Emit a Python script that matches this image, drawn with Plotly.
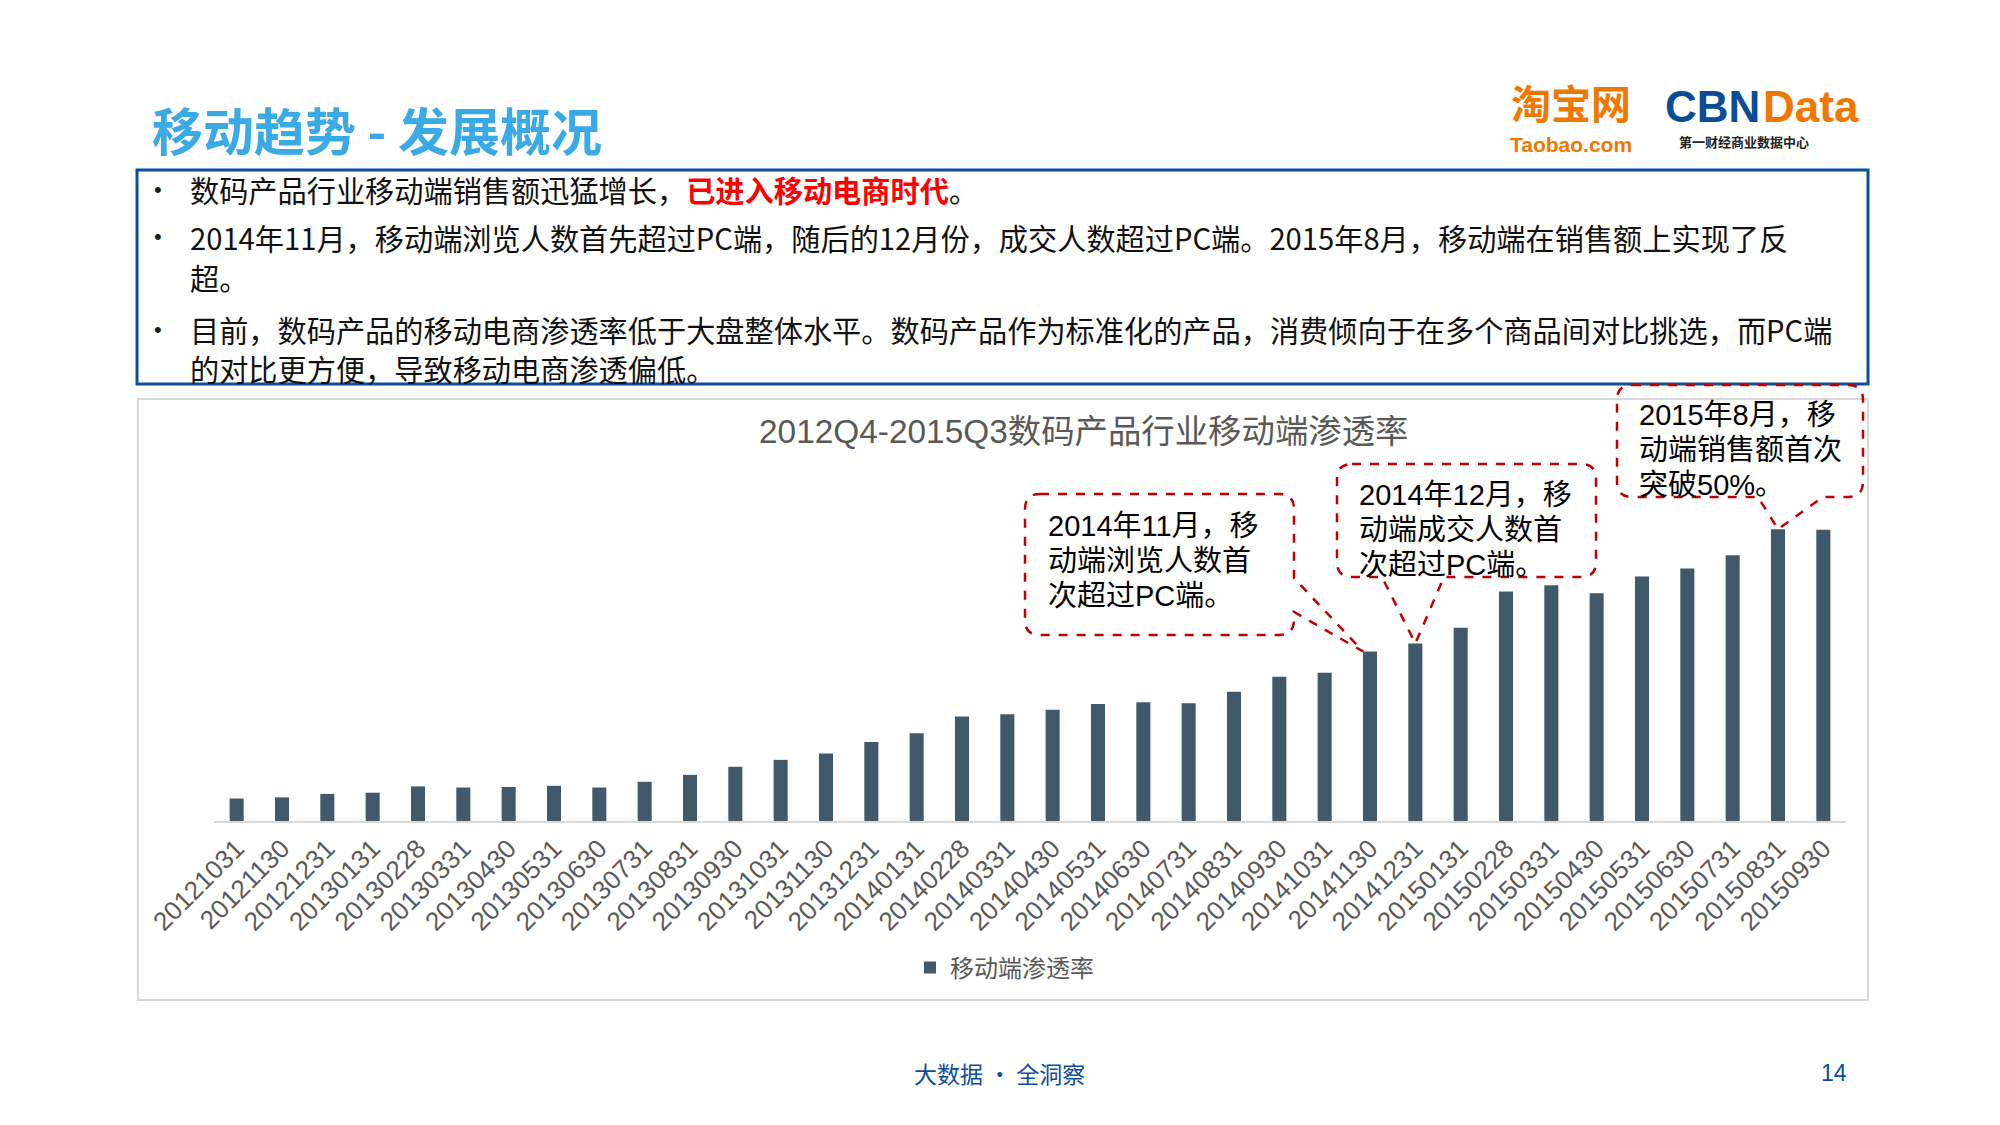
import plotly.graph_objects as go

# ---------------- data ----------------
dates = ["20121031", "20121130", "20121231", "20130131", "20130228", "20130331",
         "20130430", "20130531", "20130630", "20130731", "20130831", "20130930",
         "20131031", "20131130", "20131231", "20140131", "20140228", "20140331",
         "20140430", "20140531", "20140630", "20140731", "20140831", "20140930",
         "20141031", "20141130", "20141231", "20150131", "20150228", "20150331",
         "20150430", "20150531", "20150630", "20150731", "20150831", "20150930"]
mobile_share = [3.9, 4.1, 4.7, 4.9, 6.0, 5.8, 5.9, 6.1, 5.8, 6.8, 8.0, 9.4,
                10.6, 11.7, 13.7, 15.2, 18.1, 18.5, 19.3, 20.3, 20.6, 20.4, 22.4, 25.0,
                25.7, 29.4, 30.8, 33.5, 39.8, 40.9, 39.5, 42.4, 43.8, 46.1, 50.6, 50.5]
series_name = "移动端渗透率"
chart_title = "2012Q4-2015Q3数码产品行业移动端渗透率"
page_title = "移动趋势 - 发展概况"
bullets = [
    "数码产品行业移动端销售额迅猛增长，<span style='color:#FF0000'><b>已进入移动电商时代</b></span>。",
    "2014年11月，移动端浏览人数首先超过PC端，随后的12月份，成交人数超过PC端。2015年8月，移动端在销售额上实现了反",
    "超。",
    "目前，数码产品的移动电商渗透率低于大盘整体水平。数码产品作为标准化的产品，消费倾向于在多个商品间对比挑选，而PC端",
    "的对比更方便，导致移动电商渗透偏低。",
]
callouts = [
    (25, ["2014年11月，移", "动端浏览人数首", "次超过PC端。"]),
    (26, ["2014年12月，移", "动端成交人数首", "次超过PC端。"]),
    (34, ["2015年8月，移", "动端销售额首次", "突破50%。"]),
]

# ---------------- geometry ----------------
W, H = 2000, 1125
PL, PR, PB = 214, 1846, 821
YMAX = 60
PT = 475
PW, PH = PR - PL, PB - PT

CJK = "Noto Sans CJK SC"
LAT = "Liberation Sans, Arial, Noto Sans CJK SC"


def xp(px):
    return (px - PL) / PW


def yp(py):
    return (PB - py) / PH


def bar_top_px(i):
    cx = PL + (i + 0.5) * PW / len(dates)
    ty = PB - mobile_share[i] * PH / YMAX
    return cx, ty


fig = go.Figure()
fig.add_trace(go.Bar(
    x=dates, y=mobile_share, name=series_name,
    marker=dict(color="#405A6C", line=dict(width=0)),
    width=0.31,
))

shapes = []
annotations = []


def txt(text, x, y, size, color, family=CJK, xanchor="left", pad=1):
    annotations.append(dict(text=text, x=xp(x), y=yp(y), xref="paper", yref="paper",
                            xanchor=xanchor, yanchor="middle", showarrow=False, borderpad=pad,
                            font=dict(family=family, size=size, color=color)))


# page title
txt(f"<b>{page_title}</b>", 151, 129, 51, "#3AAAE6", pad=0)
# logos
txt("<b>淘宝网</b>", 1571, 102, 40, "#F07800", xanchor="center", pad=0)
txt("<b>Taobao.com</b>", 1571, 144, 21, "#F07800", family=LAT, xanchor="center", pad=0)
txt("<b>CBN</b>", 1761, 106, 44, "#0B4C94", family=LAT, xanchor="right", pad=0)
txt("<b>Data</b>", 1761.5, 106, 44, "#F07800", family=LAT, xanchor="left", pad=0)
txt("<b>第一财经商业数据中心</b>", 1744, 141, 13, "#222222", xanchor="center", pad=0)

# blue text box
shapes.append(dict(type="rect", xref="paper", yref="paper", x0=xp(137), x1=xp(1868), y0=yp(170), y1=yp(384),
                   line=dict(color="#0B4F9C", width=3), fillcolor="rgba(0,0,0,0)", layer="above"))
bullet_y = [189, 237, 277, 329, 368]
for k, (t, by) in enumerate(zip(bullets, bullet_y)):
    if k in (0, 1, 3):
        txt("•", 158, by, 22, "#1A1A1A", family=LAT, xanchor="center")
    txt(t, 189, by, 29.2, "#111111", pad=0)

# chart frame
shapes.append(dict(type="rect", xref="paper", yref="paper", x0=xp(138), x1=xp(1868), y0=yp(399), y1=yp(1000),
                   line=dict(color="#D9D9D9", width=2), fillcolor="rgba(0,0,0,0)", layer="below"))
txt(chart_title, 1083, 431, 33.4, "#595959", family=LAT, xanchor="center")


# callouts
def path_from_px(pts_cmds):
    out = []
    for cmd, pts in pts_cmds:
        coords = " ".join(f"{xp(px):.5f},{yp(py):.5f}" for px, py in pts)
        out.append(f"{cmd}{coords}")
    return " ".join(out) + " Z"


def callout_path(x0, y0, x1, y1, r, edge, a, b, tip):
    cmds = [("M", [(x0 + r, y0)]), ("L", [(x1 - r, y0)]), ("Q", [(x1, y0), (x1, y0 + r)])]
    if edge == "right":
        cmds += [("L", [(x1, a)]), ("L", [tip]), ("L", [(x1, b)])]
    cmds += [("L", [(x1, y1 - r)]), ("Q", [(x1, y1), (x1 - r, y1)])]
    if edge == "bottom":
        cmds += [("L", [(b, y1)]), ("L", [tip]), ("L", [(a, y1)])]
    cmds += [("L", [(x0 + r, y1)]), ("Q", [(x0, y1), (x0, y1 - r)]),
             ("L", [(x0, y0 + r)]), ("Q", [(x0, y0), (x0 + r, y0)])]
    return path_from_px(cmds)


box_geom = [
    # x0, y0, x1, y1, edge, a, b, tip x-offset, text-left, first line y, line step
    (1025, 494, 1294, 635, "right", 578, 612, -7, 1046, 526, 35),
    (1337, 464, 1596, 577, "bottom", 1382, 1444, 0, 1357, 495, 35),
    (1617, 385, 1863, 497, "bottom", 1758, 1823, 0, 1637, 415, 35),
]
for (idx, lines), (bx0, by0, bx1, by1, edge, a, b, tdx, tl, ly, ls) in zip(callouts, box_geom):
    cx, ty = bar_top_px(idx)
    tip = (cx + tdx, ty)
    shapes.append(dict(type="path", xref="paper", yref="paper",
                       path=callout_path(bx0, by0, bx1, by1, 15, edge, a, b, tip),
                       line=dict(color="#C00000", width=2.5, dash="dash"),
                       fillcolor="rgba(0,0,0,0)", layer="above"))
    for j, line in enumerate(lines):
        txt(line, tl, ly + j * ls, 29, "#000000", family=LAT)

# footer
txt("大数据 · 全洞察", 999, 1073, 23, "#0D4E9C", xanchor="center")
txt("14", 1834, 1073, 23, "#0D4E9C", family=LAT, xanchor="center")

fig.update_layout(
    width=W, height=H,
    margin=dict(l=PL, r=W - PR, t=PT, b=H - PB, pad=0),
    paper_bgcolor="white", plot_bgcolor="white",
    showlegend=True,
    legend=dict(orientation="h", x=xp(910), xanchor="left", y=yp(968), yanchor="middle",
                font=dict(family=CJK, size=24, color="#595959"), bgcolor="rgba(0,0,0,0)",
                itemwidth=30),
    xaxis=dict(type="category", tickangle=-45, showline=True, linecolor="#D9D9D9", linewidth=2,
               ticks="", showgrid=False, automargin=False,
               tickfont=dict(family=LAT, size=26, color="#595959")),
    yaxis=dict(range=[0, YMAX], visible=False, showgrid=False, zeroline=False, automargin=False),
    shapes=shapes,
    annotations=annotations,
    bargap=0.69,
)

fig.write_html("out.html", config={"displayModeBar": False},
               post_script="document.body.style.margin='0px';")
